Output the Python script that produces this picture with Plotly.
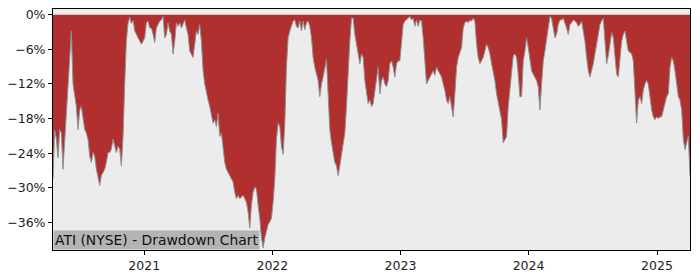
import pandas as pd
import plotly.graph_objects as go

start_date = "2020-04-16"
end_date = "2025-04-05"

drawdown_pct = [
    -28.5, -20.0, -21.5, -24.8, -19.9, -20.5, -26.8, -21.6, -16.5, -12.0,
    -6.3, -2.8, -12.0, -13.7, -15.9, -19.9, -16.5, -15.9, -17.7, -19.9,
    -20.5, -21.6, -24.5, -25.6, -23.9, -24.5, -26.8, -28.5, -29.6, -27.9,
    -27.3, -26.8, -25.6, -23.9, -23.9, -23.3, -21.6, -22.8, -23.9, -22.8,
    -23.3, -26.2, -21.1, -12.0, -4.5, -1.5, -0.4, -1.5, -1.0, -2.8,
    -3.4, -4.0, -4.6, -5.1, -4.6, -4.0, -1.4, -1.1, -2.3, -2.3,
    -3.4, -4.8, -2.3, -1.7, -1.1, -0.9, -0.3, -4.0, -3.4, -1.4,
    -2.8, -3.4, -6.8, -4.6, -1.4, -2.0, -1.4, -2.3, -1.4, -0.9,
    -2.3, -3.4, -6.3, -6.8, -7.4, -5.1, -2.8, -3.4, -1.7, -4.6,
    -9.7, -12.0, -13.7, -14.8, -15.9, -17.1, -18.8, -18.2, -19.4, -17.1,
    -21.1, -20.5, -22.8, -25.6, -26.8, -27.3, -27.9, -28.5, -29.0, -30.8,
    -31.9, -31.3, -31.9, -31.6, -31.3, -31.9, -32.5, -34.2, -37.0, -33.0,
    -30.8, -29.9, -30.2, -33.0, -35.3, -38.7, -40.4, -38.7, -37.6, -36.4,
    -35.9, -35.3, -32.5, -28.5, -21.6, -18.8, -19.4, -22.8, -24.2, -19.0,
    -9.0, -4.0, -2.8, -1.7, -1.1, -0.9, -2.0, -2.3, -1.1, -2.8,
    -1.1, -2.6, -1.4, -1.1, -2.0, -4.0, -7.4, -9.1, -10.3, -11.4,
    -14.2, -12.0, -10.8, -9.1, -7.7, -13.7, -19.9, -22.2, -23.9, -25.6,
    -26.2, -27.9, -26.2, -24.5, -22.2, -20.5, -15.9, -9.1, -4.6, -0.6,
    -0.6, -3.4, -5.1, -7.4, -8.5, -6.8, -7.4, -11.4, -13.1, -15.4,
    -14.8, -15.9, -15.4, -13.1, -10.8, -9.1, -13.7, -11.4, -10.8, -12.0,
    -12.5, -11.4, -8.5, -8.0, -9.1, -10.8, -8.5, -8.0, -8.0, -4.6,
    -1.7, -1.1, -0.9, -0.6, -0.3, -0.9, -0.6, -2.0, -0.9, -2.0,
    -0.9, -1.1, -4.0, -8.5, -12.0, -11.4, -10.8, -10.3, -9.7, -10.5,
    -9.1, -9.7, -10.3, -10.8, -12.0, -13.1, -14.8, -15.4, -14.2, -15.9,
    -17.7, -13.7, -9.1, -7.4, -6.3, -5.7, -2.3, -1.4, -1.1, -1.4,
    -0.9, -1.1, -0.6, -1.1, -5.1, -7.4, -8.5, -8.0, -7.4, -6.3,
    -5.1, -5.7, -6.8, -8.5, -9.7, -11.4, -13.7, -15.4, -17.1, -18.2,
    -22.2, -21.6, -21.1, -15.9, -12.5, -9.1, -7.1, -6.8, -7.4, -10.3,
    -14.2, -14.2, -8.0, -6.3, -4.0, -5.7, -8.0, -9.7, -10.3, -10.8,
    -11.4, -12.5, -16.5, -12.0, -8.0, -6.3, -4.0, -2.0, -0.3, -0.6,
    -2.3, -4.0, -3.4, -1.7, -0.9, -0.9, -0.6, -1.4, -2.3, -3.4,
    -1.7, -1.4, -0.9, -1.1, -1.4, -2.0, -1.7, -1.1, -2.8, -4.6,
    -7.4, -9.7, -10.8, -9.7, -8.5, -6.8, -5.1, -4.0, -1.7, -1.1,
    -0.6, -4.6, -8.5, -7.1, -5.1, -3.1, -4.0, -7.4, -10.3, -10.8,
    -7.4, -4.6, -3.4, -2.8, -4.6, -6.3, -6.5, -6.8, -8.0, -14.8,
    -18.8, -14.8, -14.2, -15.4, -13.1, -12.0, -11.4, -12.0, -14.8, -16.5,
    -17.7, -18.2, -17.7, -18.0, -17.7, -17.7, -16.5, -15.4, -14.2, -13.7,
    -9.1, -7.4, -8.0, -9.7, -12.0, -14.2, -14.8, -16.5, -21.6, -23.4,
    -22.2, -21.1, -27.9,
]

y_ticks = [0, -6, -12, -18, -24, -30, -36]
y_tick_labels = ["0%", "\u22126%", "\u221212%", "\u221218%", "\u221224%", "\u221230%", "\u221236%"]
x_ticks = ["2021-01-01", "2022-01-01", "2023-01-01", "2024-01-01", "2025-01-01"]
x_tick_labels = ["2021", "2022", "2023", "2024", "2025"]
title_text = "ATI (NYSE) - Drawdown Chart"

dates = pd.date_range(start_date, end_date, periods=len(drawdown_pct))

fig = go.Figure()
fig.add_trace(go.Scatter(x=dates, y=[0] * len(dates), mode="lines",
                         line=dict(width=0, color="rgba(0,0,0,0)"),
                         hoverinfo="skip", showlegend=False))
fig.add_trace(go.Scatter(x=dates, y=drawdown_pct, mode="lines",
                         fill="tonexty", fillcolor="#b03030",
                         line=dict(color="#8f8f8f", width=1),
                         showlegend=False))

fig.add_annotation(x=0, y=0, xref="paper", yref="paper",
                   xanchor="left", yanchor="bottom",
                   text=title_text, showarrow=False,
                   bgcolor="#b4b4b4", borderpad=1,
                   font=dict(family="DejaVu Sans", size=13.9, color="#111111"))

axis_common = dict(showline=True, linecolor="black", linewidth=1, mirror=True,
                   ticks="outside", ticklen=4, tickcolor="black",
                   showgrid=False, zeroline=False,
                   tickfont=dict(family="DejaVu Sans", size=12.5, color="#222222"))

fig.update_xaxes(range=[dates[0], dates[-1]], tickvals=x_ticks,
                 ticktext=x_tick_labels, **axis_common)
fig.update_yaxes(range=[-40.8, 1.0], tickvals=y_ticks,
                 ticktext=y_tick_labels, **axis_common)

fig.update_layout(width=700, height=280,
                  margin=dict(l=53, r=10, t=7, b=28),
                  plot_bgcolor="#ececec", paper_bgcolor="white")

fig.write_html("out.html")
